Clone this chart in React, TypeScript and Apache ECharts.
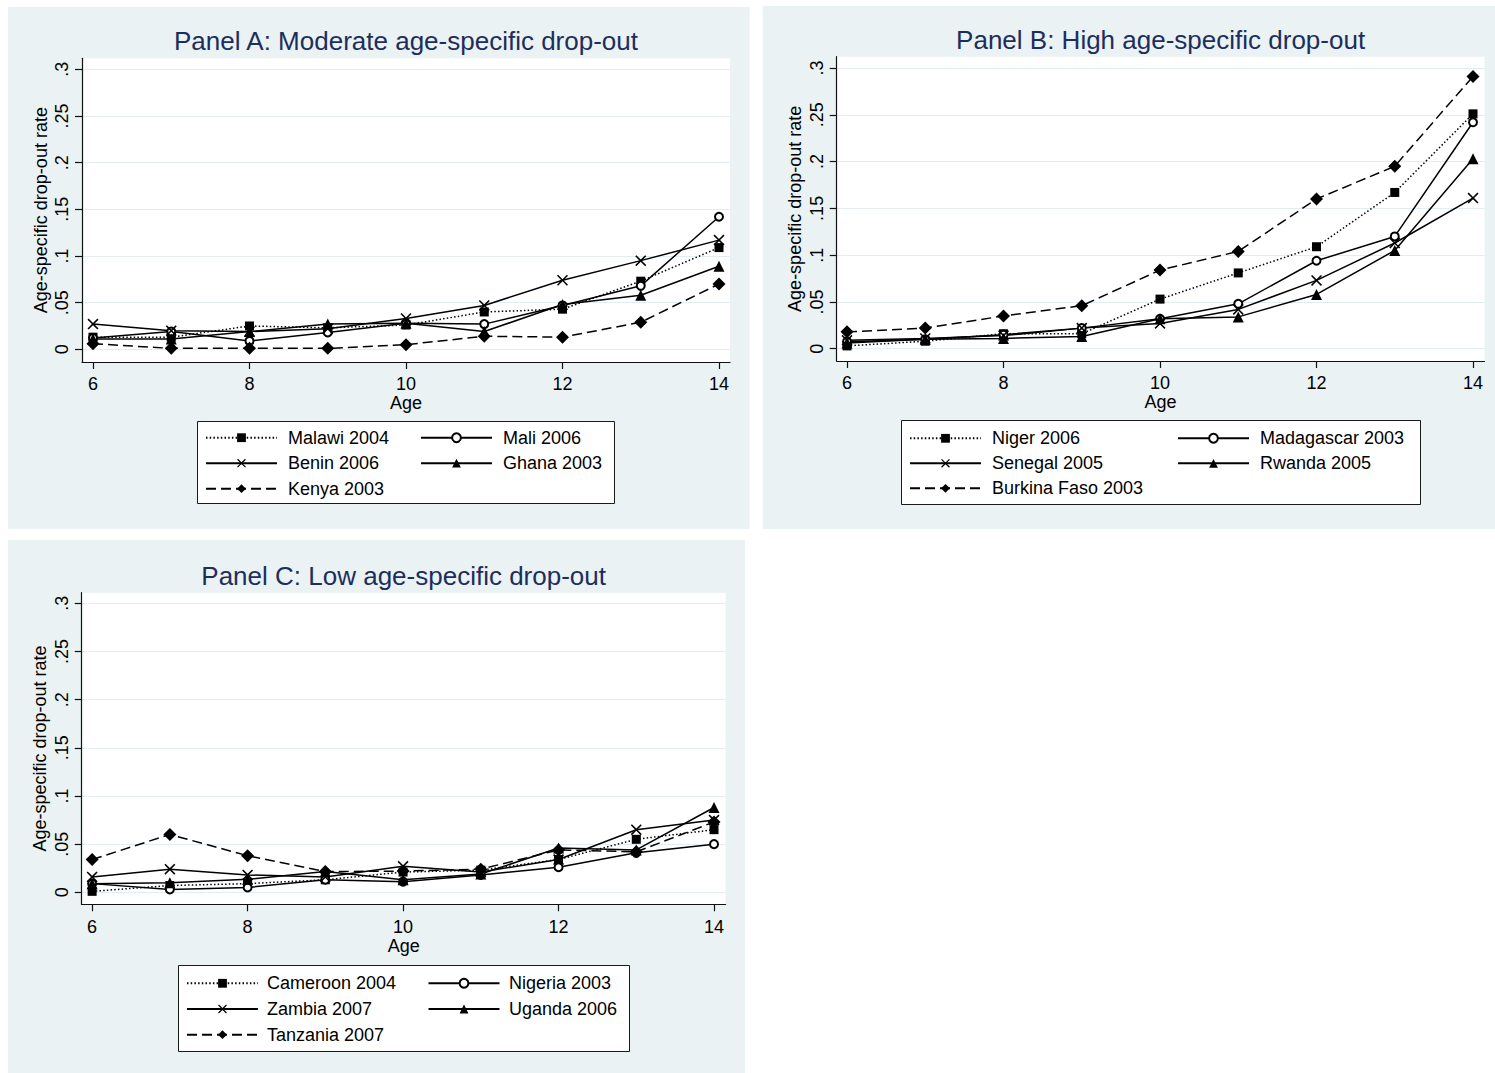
import React, { useEffect, useRef } from 'react';
import * as echarts from 'echarts';

// ---------- data ----------
const ages = [6, 7, 8, 9, 10, 11, 12, 13, 14];
const xTickValues = [6, 8, 10, 12, 14];
const yTickValues = [0, 0.05, 0.1, 0.15, 0.2, 0.25, 0.3];

const panelTitles = [
  'Panel A: Moderate age-specific drop-out',
  'Panel B: High age-specific drop-out',
  'Panel C: Low age-specific drop-out',
];
const xAxisTitle = 'Age';
const yAxisTitle = 'Age-specific drop-out rate';

// Panel A
const namesA = ['Malawi 2004', 'Mali 2006', 'Benin 2006', 'Ghana 2003', 'Kenya 2003'];
const malawi2004 = [0.013, 0.013, 0.025, 0.023, 0.026, 0.040, 0.043, 0.073, 0.109];
const mali2006 = [0.012, 0.019, 0.009, 0.018, 0.028, 0.027, 0.047, 0.068, 0.142];
const benin2006 = [0.027, 0.020, 0.019, 0.022, 0.033, 0.047, 0.074, 0.095, 0.117];
const ghana2003 = [0.011, 0.011, 0.019, 0.027, 0.028, 0.019, 0.048, 0.058, 0.089];
const kenya2003 = [0.006, 0.001, 0.001, 0.001, 0.005, 0.014, 0.013, 0.029, 0.070];

// Panel B
const namesB = ['Niger 2006', 'Madagascar 2003', 'Senegal 2005', 'Rwanda 2005', 'Burkina Faso 2003'];
const niger2006 = [0.003, 0.008, 0.016, 0.016, 0.053, 0.081, 0.109, 0.167, 0.251];
const madagascar2003 = [0.0075, 0.010, 0.015, 0.022, 0.032, 0.048, 0.094, 0.120, 0.242];
const senegal2005 = [0.009, 0.011, 0.014, 0.022, 0.027, 0.042, 0.073, 0.113, 0.161];
const rwanda2005 = [0.006, 0.010, 0.011, 0.013, 0.032, 0.034, 0.058, 0.105, 0.203];
const burkinaFaso2003 = [0.018, 0.022, 0.035, 0.046, 0.084, 0.104, 0.160, 0.195, 0.291];

// Panel C
const namesC = ['Cameroon 2004', 'Nigeria 2003', 'Zambia 2007', 'Uganda 2006', 'Tanzania 2007'];
const cameroon2004 = [0.001, 0.007, 0.009, 0.013, 0.021, 0.023, 0.034, 0.055, 0.065];
const nigeria2003 = [0.009, 0.003, 0.005, 0.013, 0.011, 0.018, 0.026, 0.041, 0.050];
const zambia2007 = [0.016, 0.024, 0.018, 0.016, 0.027, 0.021, 0.034, 0.065, 0.075];
const uganda2006 = [0.009, 0.010, 0.0135, 0.0215, 0.013, 0.019, 0.046, 0.044, 0.088];
const tanzania2007 = [0.034, 0.060, 0.038, 0.0215, 0.022, 0.024, 0.044, 0.042, 0.073];

const panelNames = [namesA, namesB, namesC];
const panelValues = [
  [malawi2004, mali2006, benin2006, ghana2003, kenya2003],
  [niger2006, madagascar2003, senegal2005, rwanda2005, burkinaFaso2003],
  [cameroon2004, nigeria2003, zambia2007, uganda2006, tanzania2007],
];

// ---------- styling / layout ----------
const FONT = '"Liberation Sans", Arial, Helvetica, sans-serif';
const X_PATH = 'path://M0,1L1,0L5,4L9,0L10,1L6,5L10,9L9,10L5,6L1,10L0,9L4,5Z';

const seriesStyles = [
  { symbol: 'rect', symbolSize: 9, lineType: [1.5, 2.2] as any, border: 0 },
  { symbol: 'emptyCircle', symbolSize: 8, lineType: 'solid' as any, border: 1.3 },
  { symbol: X_PATH, symbolSize: 11, lineType: 'solid' as any, border: 0 },
  { symbol: 'triangle', symbolSize: 11, lineType: 'solid' as any, border: 0 },
  { symbol: 'diamond', symbolSize: 13, lineType: [10, 5] as any, border: 0 },
];

const panels = [
  {
    bg: [8, 7, 741.5, 521.7],
    plot: { left: 82, top: 58.3, right: 730, bottom: 362 },
    xMin: 5.8594, xMax: 14.1406, yMin: -0.0136, yMax: 0.3118,
    titleY: 27.8,
    legendBox: [197, 421, 417, 82],
    legendCols: [
      { left: 205, pad: 6, idx: [0, 2, 4] },
      { left: 420, pad: 6, idx: [1, 3] },
    ],
    legendTop: 427.2, legendGap: 4.5,
  },
  {
    bg: [762.7, 6, 732.3, 523],
    plot: { left: 836.7, top: 56.7, right: 1484.5, bottom: 361 },
    xMin: 5.868, xMax: 14.147, yMin: -0.01314, yMax: 0.3121,
    titleY: 26.8,
    legendBox: [901, 420, 519, 84],
    legendCols: [
      { left: 909, pad: 6, idx: [0, 2, 4] },
      { left: 1177, pad: 6, idx: [1, 3] },
    ],
    legendTop: 427.8, legendGap: 4,
  },
  {
    bg: [8, 540, 737, 533],
    plot: { left: 81.7, top: 592.7, right: 725.6, bottom: 904.3 },
    xMin: 5.866, xMax: 14.149, yMin: -0.01246, yMax: 0.311,
    titleY: 562.5,
    legendBox: [178, 965, 451, 86],
    legendCols: [
      { left: 186, pad: 4, idx: [0, 2, 4] },
      { left: 427.5, pad: 4.5, idx: [1, 3] },
    ],
    legendTop: 972.8, legendGap: 4.7,
  },
];

function yLabel(v: number) {
  if (Math.abs(v) < 1e-9) return '0';
  return String(Number(v.toFixed(2))).replace(/^0\./, '.');
}

function buildOption() {
  const grid: any[] = [];
  const xAxis: any[] = [];
  const yAxis: any[] = [];
  const title: any[] = [];
  const legend: any[] = [];
  const series: any[] = [];
  const graphic: any[] = [];

  panels.forEach((p, i) => {
    const w = p.plot.right - p.plot.left;
    const h = p.plot.bottom - p.plot.top;
    graphic.push({
      type: 'rect', z: -10, silent: true,
      shape: { x: p.bg[0], y: p.bg[1], width: p.bg[2], height: p.bg[3] },
      style: { fill: '#eaf2f3' },
    });
    graphic.push({
      type: 'rect', z: 1, silent: true,
      shape: { x: p.legendBox[0] + 0.5, y: p.legendBox[1] + 0.5, width: p.legendBox[2], height: p.legendBox[3] },
      style: { fill: '#fff', stroke: '#1a1a1a', lineWidth: 1 },
    });
    grid.push({
      left: p.plot.left, top: p.plot.top, width: w, height: h,
      show: true, backgroundColor: '#fff', borderWidth: 0, borderColor: 'transparent',
    });
    xAxis.push({
      gridIndex: i, type: 'value', min: p.xMin, max: p.xMax,
      axisLine: { show: true, onZero: false, lineStyle: { color: '#111', width: 1.2 } },
      axisTick: { show: true, customValues: xTickValues, length: 7, lineStyle: { color: '#111', width: 1.2 } },
      axisLabel: { show: true, customValues: xTickValues, margin: 13.4, fontSize: 18, color: '#000', fontFamily: FONT, lineHeight: 18 },
      splitLine: { show: false },
      name: xAxisTitle, nameLocation: 'middle', nameGap: 29,
      nameTextStyle: { fontSize: 18, color: '#000', fontFamily: FONT, lineHeight: 18 },
    });
    yAxis.push({
      gridIndex: i, type: 'value', min: p.yMin, max: p.yMax,
      axisLine: { show: true, onZero: false, lineStyle: { color: '#111', width: 1.2 } },
      axisTick: { show: true, customValues: yTickValues, length: 7, lineStyle: { color: '#111', width: 1.2 } },
      axisLabel: {
        show: true, customValues: yTickValues, rotate: 90, margin: 11.2, fontSize: 18,
        color: '#000', fontFamily: FONT, lineHeight: 18, formatter: (v: number) => yLabel(v),
      },
      splitLine: { show: true, lineStyle: { color: '#e3ecf0', width: 1.2 } },
      name: yAxisTitle, nameLocation: 'middle', nameGap: 32.5, nameRotate: 90,
      nameTextStyle: { fontSize: 18, color: '#000', fontFamily: FONT, lineHeight: 18 },
    });
    title.push({
      text: panelTitles[i],
      left: (p.plot.left + p.plot.right) / 2, top: p.titleY, textAlign: 'center', padding: 0,
      textStyle: { fontSize: 26, fontWeight: 'normal', color: '#1d2e5c', fontFamily: FONT, lineHeight: 26 },
    });
    p.legendCols.forEach((c) => {
      legend.push({
        show: true, orient: 'vertical', left: c.left, top: p.legendTop, padding: 0,
        itemWidth: 71, itemHeight: 11, itemGap: p.legendGap, selectedMode: false,
        data: c.idx.map((k) => panelNames[i][k]),
        textStyle: { fontSize: 18, color: '#000', fontFamily: FONT, lineHeight: 21, padding: [0, 0, 0, c.pad] },
        z: 5,
      });
    });
    panelValues[i].forEach((vals, k) => {
      const st = seriesStyles[k];
      series.push({
        type: 'line', name: panelNames[i][k], xAxisIndex: i, yAxisIndex: i,
        data: ages.map((a, j) => [a, vals[j]]),
        symbol: st.symbol, symbolSize: st.symbolSize, showSymbol: true, clip: false,
        lineStyle: { color: '#000', width: 1.5, type: st.lineType },
        itemStyle: { color: '#000', borderColor: '#000', borderWidth: st.border },
        emphasis: { disabled: true }, silent: true,
      });
    });
  });

  return {
    animation: false,
    backgroundColor: '#fff',
    textStyle: { fontFamily: FONT },
    grid, xAxis, yAxis, title, legend, series, graphic,
  };
}

export default function App() {
  const ref = useRef<HTMLDivElement>(null);
  useEffect(() => {
    document.body.style.margin = '0';
    if (!ref.current) return;
    const chart = echarts.init(ref.current, undefined, { renderer: 'svg' });
    chart.setOption(buildOption() as any);
    return () => chart.dispose();
  }, []);
  return <div ref={ref} style={{ width: 1495, height: 1073 }} />;
}
